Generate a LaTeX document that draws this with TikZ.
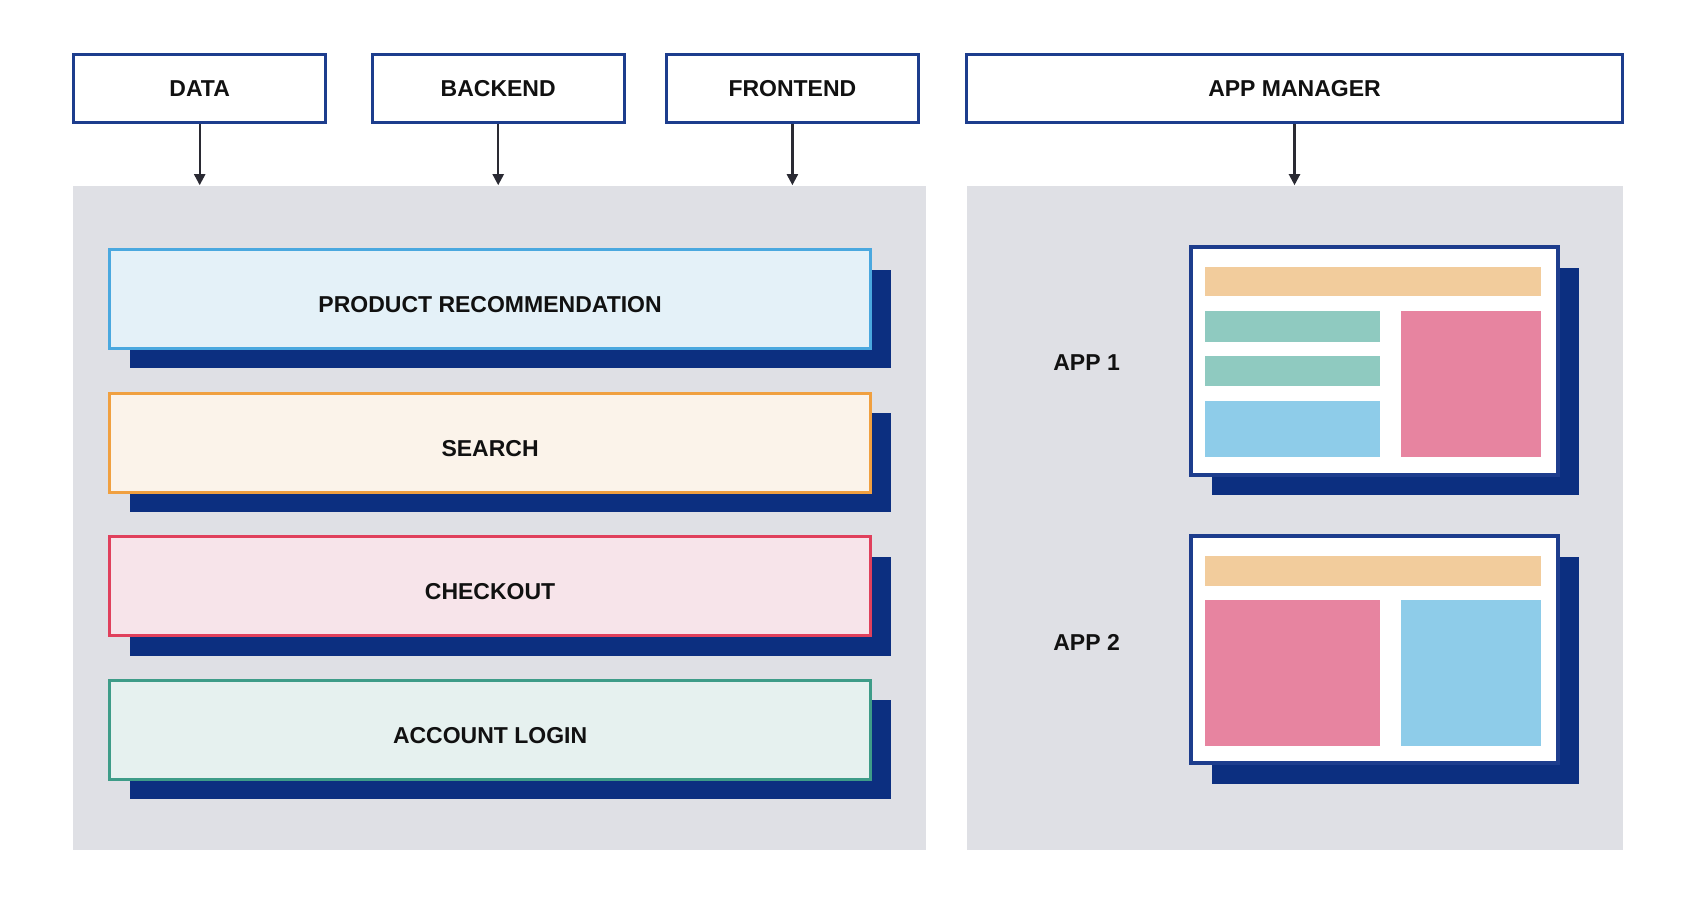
\documentclass[tikz,border=0pt]{standalone}
\usepackage{fontspec}
\setmainfont{Liberation Sans}
\usepackage{xcolor}
\usetikzlibrary{arrows.meta,shadows}
\definecolor{NAVY}{HTML}{0C2F80}
\definecolor{EDGE}{HTML}{1D3D8D}
\definecolor{PANEL}{HTML}{DFE0E5}
\definecolor{INK}{HTML}{111111}
\definecolor{WIRE}{HTML}{2A2A33}
\definecolor{RECF}{HTML}{E4F1F8}
\definecolor{RECD}{HTML}{4AA8DF}
\definecolor{SRCF}{HTML}{FBF3EA}
\definecolor{SRCD}{HTML}{F0A040}
\definecolor{CHKF}{HTML}{F7E4EA}
\definecolor{CHKD}{HTML}{E0405C}
\definecolor{LOGF}{HTML}{E6F1EF}
\definecolor{LOGD}{HTML}{3E9C88}
\definecolor{BAR}{HTML}{F2CC9C}
\definecolor{MINT}{HTML}{8FCAC0}
\definecolor{ROSE}{HTML}{E784A0}
\definecolor{SKY}{HTML}{8ECCE9}

\begin{document}
\begin{tikzpicture}[
    x=0.5pt, y=-0.5pt,
    lab/.style={font=\fontsize{11.5}{14}\selectfont\bfseries, text=INK},
    head/.style={lab, draw=EDGE, fill=white, line width=1.5pt, minimum height=34.2pt},
    panel/.style={fill=PANEL, draw=none, minimum height=332.2pt},
    feed/.style={-{Triangle[length=5.5pt,width=5.5pt]}, draw=WIRE, line width=1.1pt},
    modbox/.style={lab, line width=1.5pt, minimum width=380.5pt, minimum height=49.4pt,
      text height=13.6pt, text depth=0pt,
      general shadow={fill=NAVY, shadow xshift=10pt, shadow yshift=-10pt}},
    window/.style={fill=white, draw=EDGE, line width=2pt, minimum width=183.5pt, minimum height=113.5pt,
      general shadow={fill=NAVY, shadow xshift=10.5pt, shadow yshift=-10.3pt}},
  ]
  \useasboundingbox[fill=white] (0,0) rectangle (1702,898);

  % headers
  \node[head, minimum width=126pt] (data) at (199.7,88.5) {DATA};
  \node[head, minimum width=126pt] (backend) at (498.2,88.5) {BACKEND};
  \node[head, minimum width=126pt] (frontend) at (792.4,88.5) {FRONTEND};
  \node[head, minimum width=328.4pt] (manager) at (1294.5,88.5) {APP MANAGER};

  % panels
  \node[panel, minimum width=426.7pt] (modpanel) at (499.4,517.8) {};
  \node[panel, minimum width=327.8pt] (apppanel) at (1295,517.8) {};

  % arrows
  \foreach \src in {data,backend,frontend}
    \draw[feed] (\src.south) -- (\src.south |- modpanel.north);
  \draw[feed] (manager.south) -- (manager.south |- apppanel.north);

  % modules
  \foreach \name/\txt/\fc/\dc [count=\i from 0] in {
      rec/PRODUCT RECOMMENDATION/RECF/RECD,
      search/SEARCH/SRCF/SRCD,
      checkout/CHECKOUT/CHKF/CHKD,
      login/ACCOUNT LOGIN/LOGF/LOGD} {
    \node[modbox, fill=\fc, draw=\dc] (\name) at (490.1,{299+143.6*\i}) {\txt};
  }

  % apps
  \node[window] (app1) at (1374.3,361) {};
  \node[window] (app2) at (1374.3,649.7) {};
  \node[lab] (app1lab) at (1086.6,362.6) {APP 1};
  \node[lab] (app2lab) at (1086.6,642.6) {APP 2};

  % app 1 layout
  \fill[BAR]  (1205,267) rectangle (1541,296.3);
  \fill[MINT] (1205,311.5) rectangle (1380,342);
  \fill[MINT] (1205,356) rectangle (1380,386.5);
  \fill[SKY]  (1205,401.5) rectangle (1380,457);
  \fill[ROSE] (1401,311.5) rectangle (1541,457);

  % app 2 layout
  \fill[BAR]  (1205,556) rectangle (1541,586.2);
  \fill[ROSE] (1205,600.3) rectangle (1380,745.7);
  \fill[SKY]  (1401,600.3) rectangle (1541,745.7);

\end{tikzpicture}
\end{document}
